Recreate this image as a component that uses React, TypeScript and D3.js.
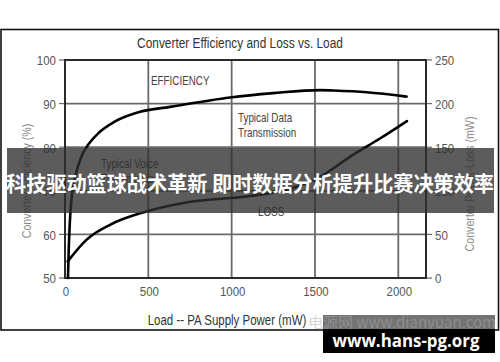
import React from "react";
import * as d3 from "d3";

// Load (mW) vs converter efficiency (%)
const effLoad = [18, 22, 28, 40, 60, 100, 140, 200, 300, 440, 640, 990, 1250, 1530, 1610, 1810, 2050];
const effValue = [50, 56, 62, 68.5, 73.0, 78.0, 80.6, 83.2, 85.9, 88.0, 89.3, 91.4, 92.4, 93.1, 93.0, 92.6, 91.6];

// Load (mW) vs converter power loss (mW)
const lossLoad = [16, 130, 270, 484, 710, 1110, 1308, 1530, 1710, 1890, 2052];
const lossValue = [19, 44, 61, 76, 86, 94, 100, 116, 139, 160, 180];

const xTicks = [0, 500, 1000, 1500, 2000];
const effTicks = [50, 60, 70, 80, 90, 100];
const lossTicks = [0, 50, 100, 150, 200, 250];

const title = "Converter Efficiency and Loss vs. Load";
const xLabel = "Load  -- PA Supply Power (mW)";
const yLeftLabel = "Converter Efficiency (%)";
const yRightLabel = "Converter Power-Loss (mW)";
const banner = "科技驱动篮球战术革新 即时数据分析提升比赛决策效率";
const site = "www.hans-pg.org";
const faintMark = "电源网 www.dianyuan.com";

const W = 500;
const H = 362;
const plot = { left: 65, right: 426, top: 60, bottom: 278 };

const sans = "'Liberation Sans', Arial, sans-serif";

// Condensed label: regular sans squeezed horizontally
function Narrow(props: {
  x: number;
  y: number;
  size: number;
  fill: string;
  anchor?: "start" | "middle" | "end";
  rotate?: number;
  squeeze?: number;
  children: React.ReactNode;
}) {
  const { x, y, size, fill, anchor = "start", rotate = 0, squeeze = 0.82, children } = props;
  return (
    <g transform={`translate(${x},${y}) rotate(${rotate}) scale(${squeeze},1)`}>
      <text
        x={0}
        y={0}
        textAnchor={anchor}
        dominantBaseline="central"
        fontFamily={sans}
        fontSize={size}
        fill={fill}
      >
        {children}
      </text>
    </g>
  );
}

export default function App() {
  const x = d3.scaleLinear().domain([0, 2000]).range([plot.left, 398.3]);
  const yEff = d3.scaleLinear().domain([50, 100]).range([plot.bottom, plot.top]);
  const yLoss = d3.scaleLinear().domain([0, 250]).range([plot.bottom, plot.top]);

  const effLine = d3
    .line<number>()
    .x((_, i) => x(effLoad[i]))
    .y((d) => yEff(d))
    .curve(d3.curveMonotoneX);
  const lossLine = d3
    .line<number>()
    .x((_, i) => x(lossLoad[i]))
    .y((d) => yLoss(d))
    .curve(d3.curveMonotoneX);

  const gridColor = "#6a6a6a";

  return (
    <svg
      width={W}
      height={H}
      style={{ position: "fixed", left: 0, top: 0, background: "#fff" }}
    >
      <rect x={0} y={0} width={W} height={H} fill="#fff" />
      {/* outer frame */}
      <rect x={1} y={29.5} width={497.5} height={300.5} fill="none" stroke="#111" strokeWidth={1.6} />

      <Narrow x={240} y={43} size={14.5} fill="#333" anchor="middle">
        {title}
      </Narrow>

      {/* horizontal grid + ticks */}
      {effTicks.map((t) => (
        <g key={"h" + t}>
          {t > 50 && t < 100 && (
            <line x1={plot.left} x2={plot.right} y1={yEff(t)} y2={yEff(t)} stroke={gridColor} strokeWidth={1.8} />
          )}
          <line x1={plot.left - 6} x2={plot.left} y1={yEff(t)} y2={yEff(t)} stroke={gridColor} strokeWidth={1.2} />
          <Narrow x={56} y={yEff(t) + 1} size={13.5} fill="#555" anchor="end" squeeze={0.85}>
            {t}
          </Narrow>
        </g>
      ))}
      {lossTicks.map((t) => (
        <g key={"r" + t}>
          <line x1={plot.right} x2={plot.right + 6} y1={yLoss(t)} y2={yLoss(t)} stroke={gridColor} strokeWidth={1.2} />
          <Narrow x={435} y={yLoss(t) + 1} size={13.5} fill="#555" squeeze={0.85}>
            {t}
          </Narrow>
        </g>
      ))}

      {/* vertical grid + x tick labels */}
      {xTicks.map((t) => (
        <g key={"v" + t}>
          {t > 0 && (
            <line x1={x(t)} x2={x(t)} y1={plot.top} y2={plot.bottom} stroke={gridColor} strokeWidth={1.8} />
          )}
          <Narrow x={x(t) + 1} y={292} size={13.5} fill="#555" anchor="middle" squeeze={0.85}>
            {t}
          </Narrow>
        </g>
      ))}

      {/* plot frame */}
      <rect
        x={plot.left}
        y={plot.top}
        width={plot.right - plot.left}
        height={plot.bottom - plot.top}
        fill="none"
        stroke="#2a2a2a"
        strokeWidth={2}
      />

      {/* curves */}
      <path d={effLine(effValue) ?? ""} fill="none" stroke="#000" strokeWidth={2.6} strokeLinecap="round" />
      <path d={lossLine(lossValue) ?? ""} fill="none" stroke="#000" strokeWidth={2.6} strokeLinecap="round" />

      {/* annotations */}
      <Narrow x={151} y={81} size={12} fill="#444">EFFICIENCY</Narrow>
      <Narrow x={238} y={118} size={12} fill="#444">Typical Data</Narrow>
      <Narrow x={238} y={133} size={12} fill="#444">Transmission</Narrow>
      <Narrow x={101} y={164} size={12} fill="#444">Typical Voice</Narrow>
      <Narrow x={101} y={179} size={12} fill="#444">Transmission</Narrow>
      <Narrow x={258} y={212} size={12} fill="#444">LOSS</Narrow>

      {/* axis titles */}
      <Narrow x={27} y={181} size={13} fill="#8a8a8a" anchor="middle" rotate={-90}>
        {yLeftLabel}
      </Narrow>
      <Narrow x={470} y={184} size={13} fill="#8a8a8a" anchor="middle" rotate={-90}>
        {yRightLabel}
      </Narrow>
      <Narrow x={227} y={320} size={14} fill="#333" anchor="middle">
        {xLabel}
      </Narrow>

      {/* headline band */}
      <rect x={7} y={148} width={487} height={65} fill="#2e2e2e" opacity={0.78} />
      <text
        x={250}
        y={182}
        textAnchor="middle"
        dominantBaseline="central"
        fontFamily="'Noto Sans CJK SC', sans-serif"
        fontWeight={700}
        fontSize={21}
        fill="#fff"
        textLength={488}
        lengthAdjust="spacingAndGlyphs"
      >
        {banner}
      </text>

      {/* site marks */}
      <rect x={323} y={315} width={172} height={14} fill="#000" opacity={0.55} />
      <text
        x={308}
        y={321}
        dominantBaseline="central"
        fontFamily="'Noto Sans CJK SC', 'Liberation Sans', sans-serif"
        fontSize={15}
        fill="#aaa"
        opacity={0.5}
        textLength={188}
        lengthAdjust="spacingAndGlyphs"
      >
        {faintMark}
      </text>
      <rect x={323} y={329} width={172} height={24} fill="#000" />
      <text
        x={406}
        y={340}
        textAnchor="middle"
        dominantBaseline="central"
        fontFamily="'Open Sans', sans-serif"
        fontWeight={700}
        fontSize={18}
        fill="#fff"
        textLength={147}
        lengthAdjust="spacingAndGlyphs"
      >
        {site}
      </text>
    </svg>
  );
}
